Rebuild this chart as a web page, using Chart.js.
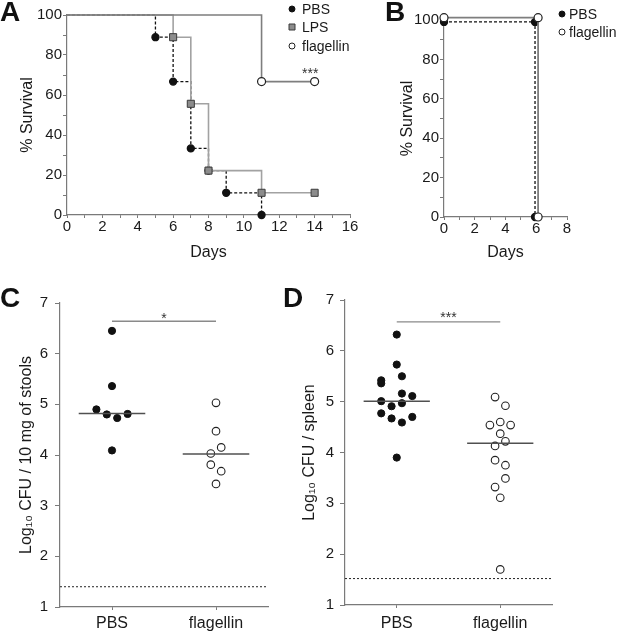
<!DOCTYPE html>
<html>
<head>
<meta charset="utf-8">
<script src="https://cdn.jsdelivr.net/npm/chart.js@4.4.1/dist/chart.umd.min.js"></script>
<style>
body { margin:0; background:#fff; width:618px; height:635px; position:relative; overflow:hidden; font-family:"Liberation Sans", Arial, sans-serif; }
canvas { position:absolute; }
.letter { position:absolute; font-weight:bold; font-size:28px; line-height:1; color:#111; }
</style>
</head>
<body>
<canvas id="chartA" width="365" height="270" style="left:0;top:0"></canvas>
<canvas id="chartB" width="253" height="270" style="left:365px;top:0"></canvas>
<canvas id="chartC" width="300" height="350" style="left:0;top:285px"></canvas>
<canvas id="chartD" width="328" height="350" style="left:290px;top:285px"></canvas>
<div class="letter" style="left:0;top:-2px">A</div>
<div class="letter" style="left:385px;top:-2px">B</div>
<div class="letter" style="left:0;top:284px">C</div>
<div class="letter" style="left:283px;top:284px">D</div>
<script>
// A: survival (%) by day
let daysA_pbs = [0, 5, 6, 7, 8, 9, 11];
let survA_pbs = [100, 88.9, 66.7, 33.3, 22.2, 11.1, 0];
let daysA_lps = [0, 6, 7, 8, 11, 14];
let survA_lps = [100, 88.9, 55.6, 22.2, 11.1, 11.1];
let daysA_flag = [0, 11, 14];
let survA_flag = [100, 66.7, 66.7];

// B: survival (%) by day
let daysB_pbs = [0, 5.92, 5.92];
let survB_pbs = [99, 99, 0];
let daysB_flag = [0, 6.12, 6.12];
let survB_flag = [101.2, 101.2, 0];

// C / D: log10 CFU
let groups = ['PBS', 'flagellin'];

let stool_pbs = [6.45, 5.36, 4.90, 4.80, 4.73, 4.81, 4.09];
let stool_pbs_spread = [0, 0, -0.15, -0.05, 0.05, 0.15, 0];
let stool_flag = [5.03, 4.47, 4.15, 4.03, 3.81, 3.68, 3.43];
let stool_flag_spread = [0, 0, 0.05, -0.05, -0.05, 0.05, 0];
let stool_median = [4.82, 4.02];
let stool_limit = 1.40;
let stool_sig = 6.64;

let spleen_pbs = [6.32, 5.73, 5.42, 5.36, 5.50, 5.16, 5.11, 5.01, 4.97, 4.91, 4.77, 4.67, 4.59, 4.70, 3.90];
let spleen_pbs_spread = [0, 0, -0.15, -0.15, 0.05, 0.05, 0.15, -0.15, 0.05, -0.05, -0.15, -0.05, 0.05, 0.15, 0];
let spleen_flag = [5.09, 4.92, 4.54, 4.60, 4.54, 4.37, 4.22, 4.13, 3.85, 3.75, 3.49, 3.32, 3.11, 1.70];
let spleen_flag_spread = [-0.05, 0.05, -0.1, 0, 0.1, 0, 0.05, -0.05, -0.05, 0.05, 0.05, -0.05, 0, 0];
let spleen_median = [5.01, 4.18];
let spleen_limit = 1.52;
let spleen_sig = 6.57;

const FONT = '"Liberation Sans", Arial, sans-serif';
const AXIS = '#7a7a7a';
const INK = '#1a1a1a';

function pts(xs, ys) {
  return xs.map((x, i) => ({x: x, y: ys[i]}));
}

function group_pts(idx, ys, spread) {
  return ys.map((y, i) => ({x: idx + spread[i], y: y}));
}

// legend drawn inside the panel
const keyPlugin = {
  id: 'key',
  afterDraw(chart, args, opts) {
    if (!opts.rows) return;
    let ctx = chart.ctx;
    ctx.save();
    opts.rows.forEach((row) => {
      let ds = chart.data.datasets[row.dataset];
      let y = row.y;
      ctx.lineWidth = 1;
      ctx.fillStyle = ds.pointBackgroundColor;
      ctx.strokeStyle = ds.pointBorderColor;
      ctx.beginPath();
      if (ds.pointStyle === 'rect') {
        ctx.rect(opts.x - 3, y - 3, 6, 6);
      } else {
        ctx.arc(opts.x, y, 3, 0, Math.PI * 2);
      }
      ctx.fill();
      ctx.stroke();
      ctx.fillStyle = INK;
      ctx.font = '14px ' + FONT;
      ctx.textBaseline = 'middle';
      ctx.fillText(ds.label, opts.textX, y + 1);
    });
    ctx.restore();
  }
};

// significance stars
const notePlugin = {
  id: 'note',
  afterDatasetsDraw(chart, args, opts) {
    if (!opts.items) return;
    let ctx = chart.ctx;
    ctx.save();
    ctx.font = '14px ' + FONT;
    ctx.fillStyle = '#333';
    ctx.textAlign = 'center';
    ctx.textBaseline = 'alphabetic';
    opts.items.forEach((n) => {
      let px = chart.scales.x.getPixelForValue(n.x);
      let py = chart.scales.y.getPixelForValue(n.y) + (n.dy || 0);
      ctx.fillText(n.text, px, py);
    });
    ctx.restore();
  }
};

Chart.register(keyPlugin, notePlugin);

function km_dataset(label, data, style) {
  return Object.assign({
    label: label,
    data: data,
    showLine: true,
    stepped: true,
    fill: false,
    clip: false,
    pointHoverRadius: 0
  }, style);
}

function survival_scales(maxX, yWidth, xHeight, yPad) {
  return {
    x: {
      type: 'linear', min: 0, max: maxX,
      afterFit: (s) => { s.height = xHeight; },
      border: {color: AXIS, width: 1.2},
      grid: {drawOnChartArea: false, color: AXIS, tickLength: 3},
      ticks: {
        stepSize: 1, autoSkip: false, maxRotation: 0, padding: 0,
        color: INK, font: {family: FONT, size: 15},
        callback: (v) => v % 2 === 0 ? v : ''
      },
      title: {display: true, text: 'Days', color: INK, font: {family: FONT, size: 16}, padding: {top: 0, bottom: 8}}
    },
    y: {
      type: 'linear', min: 0, max: 100,
      afterFit: (s) => { s.width = yWidth; },
      border: {color: AXIS, width: 1.2},
      grid: {drawOnChartArea: false, color: AXIS, tickLength: 4},
      ticks: {
        stepSize: 10, autoSkip: false, padding: 1,
        color: INK, font: {family: FONT, size: 15},
        callback: (v) => v % 20 === 0 ? v : ''
      },
      title: {display: true, text: '% Survival', color: INK, font: {family: FONT, size: 16}, padding: {top: yPad, bottom: 0}}
    }
  };
}

function base_options(padding, scales, plugins) {
  return {
    responsive: false,
    animation: false,
    events: [],
    layout: {padding: padding},
    scales: scales,
    plugins: Object.assign({legend: {display: false}, tooltip: {enabled: false}}, plugins)
  };
}

// ---- A
new Chart('chartA', {
  type: 'scatter',
  data: {
    datasets: [
      km_dataset('PBS', pts(daysA_pbs, survA_pbs), {
        order: 3, borderColor: '#111', borderWidth: 1.3, borderDash: [3, 2],
        pointStyle: 'circle', pointRadius: [0, 3.5, 3.5, 3.5, 3.5, 3.5, 3.5],
        pointBackgroundColor: '#111', pointBorderColor: '#111'
      }),
      km_dataset('LPS', pts(daysA_lps, survA_lps), {
        order: 2, borderColor: '#a2a2a2', borderWidth: 1.6,
        pointStyle: 'rect', pointRadius: [0, 5, 5, 5, 5, 5], pointBorderWidth: 1,
        pointBackgroundColor: '#8c8c8c', pointBorderColor: '#3a3a3a'
      }),
      km_dataset('flagellin', pts(daysA_flag, survA_flag), {
        order: 1, borderColor: '#7e7e7e', borderWidth: 1.6,
        pointStyle: 'circle', pointRadius: [0, 4, 4], pointBorderWidth: 1.2,
        pointBackgroundColor: '#fff', pointBorderColor: '#222'
      })
    ]
  },
  options: base_options({left: 0, top: 15, right: 15, bottom: 0},
    survival_scales(16, 67, 55, 18),
    {
      key: {x: 292, textX: 302, rows: [{dataset: 0, y: 9}, {dataset: 1, y: 27}, {dataset: 2, y: 46}]},
      note: {items: [{x: 13.75, y: 66.7, dy: -4, text: '***'}]}
    })
});

// ---- B
new Chart('chartB', {
  type: 'scatter',
  data: {
    datasets: [
      km_dataset('PBS', pts(daysB_pbs, survB_pbs), {
        order: 2, borderColor: '#111', borderWidth: 1.3, borderDash: [3, 2],
        pointStyle: 'circle', pointRadius: 3.5,
        pointBackgroundColor: '#111', pointBorderColor: '#111'
      }),
      km_dataset('flagellin', pts(daysB_flag, survB_flag), {
        order: 1, borderColor: '#7e7e7e', borderWidth: 1.8,
        pointStyle: 'circle', pointRadius: 4, pointBorderWidth: 1.2,
        pointBackgroundColor: '#fff', pointBorderColor: '#222'
      })
    ]
  },
  options: base_options({left: 0, top: 20, right: 51, bottom: 0},
    survival_scales(8, 79, 53, 33),
    {
      key: {x: 197, textX: 204, rows: [{dataset: 0, y: 14}, {dataset: 1, y: 32}]}
    })
});

// ---- C, D
function dot_chart(id, yTitle, pbs, pbsSpread, flag, flagSpread, median, limit, sig, stars, layout) {
  let datasets = [
    {
      label: 'median PBS', data: [{x: -0.32, y: median[0]}, {x: 0.32, y: median[0]}],
      showLine: true, borderColor: '#505050', borderWidth: 1.5, pointRadius: 0
    },
    {
      label: 'median flagellin', data: [{x: 0.68, y: median[1]}, {x: 1.32, y: median[1]}],
      showLine: true, borderColor: '#505050', borderWidth: 1.5, pointRadius: 0
    },
    {
      label: 'PBS', data: group_pts(0, pbs, pbsSpread),
      pointRadius: 3.6, pointBackgroundColor: '#111', pointBorderColor: '#111', pointBorderWidth: 1
    },
    {
      label: 'flagellin', data: group_pts(1, flag, flagSpread),
      pointRadius: 3.8, pointBackgroundColor: '#fff', pointBorderColor: '#222', pointBorderWidth: 1.1
    },
    {
      label: 'limit', data: [{x: -0.5, y: limit}, {x: 1.5, y: limit}],
      showLine: true, borderColor: '#222', borderWidth: 1, borderDash: [2, 2], pointRadius: 0
    },
    {
      label: 'sig', data: [{x: 0, y: sig}, {x: 1, y: sig}],
      showLine: true, borderColor: '#8a8a8a', borderWidth: 1.3, pointRadius: 0
    }
  ];

  new Chart(id, {
    type: 'scatter',
    data: {datasets: datasets},
    options: base_options({left: 0, top: layout.top, right: layout.right, bottom: 0}, {
      x: {
        type: 'linear', min: -0.5, max: 1.5,
        afterFit: (s) => { s.height = layout.xHeight; },
        afterBuildTicks: (s) => { s.ticks = [{value: 0}, {value: 1}]; },
        border: {color: AXIS, width: 1.2},
        grid: {drawOnChartArea: false, color: AXIS, tickLength: 3},
        ticks: {
          autoSkip: false, maxRotation: 0, padding: layout.xPad,
          color: INK, font: {family: FONT, size: 16},
          callback: (v) => groups[v]
        }
      },
      y: {
        type: 'linear', min: 1, max: 7,
        afterFit: (s) => { s.width = layout.yWidth; },
        border: {color: AXIS, width: 1.2},
        grid: {drawOnChartArea: false, color: AXIS, tickLength: 5},
        ticks: {stepSize: 1, padding: layout.yPad, color: INK, font: {family: FONT, size: 15}},
        title: {display: true, text: yTitle, color: INK, font: {family: FONT, size: 16}, padding: {top: layout.titlePad, bottom: 0}}
      }
    }, {
      note: {items: [{x: 0.5, y: sig, dy: stars.dy, text: stars.text}]}
    })
  });
}

dot_chart('chartC', 'Log\u2081\u2080 CFU / 10 mg of stools',
  stool_pbs, stool_pbs_spread, stool_flag, stool_flag_spread,
  stool_median, stool_limit, stool_sig, {text: '*', dy: 2},
  {top: 18, right: 32, xHeight: 28, yWidth: 60, xPad: 4, yPad: 7, titlePad: 17});

dot_chart('chartD', 'Log\u2081\u2080 CFU / spleen',
  spleen_pbs, spleen_pbs_spread, spleen_flag, spleen_flag_spread,
  spleen_median, spleen_limit, spleen_sig, {text: '***', dy: 0},
  {top: 14, right: 66, xHeight: 30, yWidth: 55, xPad: 6, yPad: 6, titlePad: 10});
</script>
</body>
</html>
